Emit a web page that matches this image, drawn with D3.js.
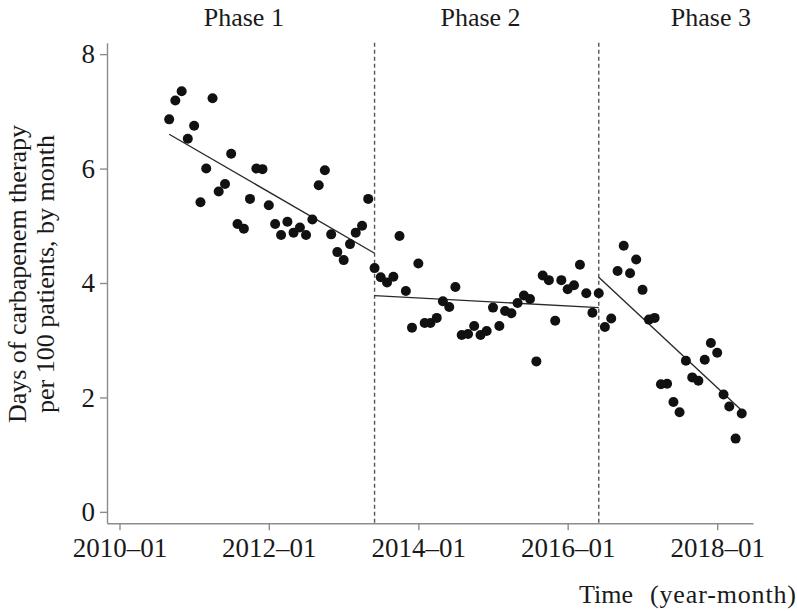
<!DOCTYPE html>
<html>
<head>
<meta charset="utf-8">
<script src="https://cdn.jsdelivr.net/npm/d3@7"></script>
<style>
  body { margin: 0; background: #fff; }
  svg text { font-family: "Liberation Serif", "Times New Roman", serif; fill: #1a1a1a; }
</style>
</head>
<body>
<div id="container"><svg id="canvas" width="797" height="611"></svg></div>
<script>
// ************************************************************************************** //
// Data (days of carbapenem therapy per 100 patients, monthly)

var phaseNames = ['Phase 1', 'Phase 2', 'Phase 3'];
var phaseLabelAt = ['2011-09', '2014-11', '2017-12'];
var phaseStart = ['2010-09', '2013-07', '2016-07'];

var phase1Values = [6.86, 7.19, 7.35, 6.52, 6.75, 5.41, 6.00, 7.23, 5.60, 5.73, 6.26, 5.03, 4.95, 5.47, 6.00, 5.99, 5.36,
  5.03, 4.84, 5.07, 4.88, 4.97, 4.84, 5.11, 5.71, 5.97, 4.85, 4.54, 4.40, 4.68, 4.88, 5.00, 5.47, 4.26];
var phase2Values = [4.10, 4.01, 4.11, 4.82, 3.86, 3.22, 4.34, 3.30, 3.30, 3.39, 3.68, 3.58, 3.93, 3.09, 3.11, 3.25, 3.09,
  3.16, 3.57, 3.25, 3.51, 3.47, 3.65, 3.78, 3.72, 2.63, 4.13, 4.05, 3.34, 4.05, 3.89, 3.96, 4.32, 3.82, 3.48, 3.82];
var phase3Values = [3.23, 3.38, 4.21, 4.65, 4.17, 4.41, 3.88, 3.36, 3.39, 2.23, 2.24, 1.92, 1.74, 2.64, 2.35, 2.29,
  2.66, 2.95, 2.78, 2.05, 1.84, 1.28, 1.72];

// fitted segments: start / end month and value
var trendFromMonth = ['2010-09', '2013-06', '2016-06'];
var trendToMonth = ['2013-06', '2016-06', '2018-05'];
var trendFromValue = [6.60, 3.78, 4.10];
var trendToValue = [4.52, 3.57, 1.77];

var breakMonths = ['2013-06', '2016-06'];
var yTicks = [0, 2, 4, 6, 8];

// ************************************************************************************** //
// Scales

var parseMonth = d3.utcParse('%Y-%m');
var svg = d3.select('#canvas');

var xScale = d3.scaleUtc()
  .domain([new Date(Date.UTC(2009, 10, 1)), new Date(Date.UTC(2018, 5, 25))])
  .range([107, 753]);
var yScale = d3.scaleLinear().domain([-0.2, 8.2]).range([523.3, 42.7]);

var points = [];
[phase1Values, phase2Values, phase3Values].forEach(function(vals, p){
  var start = parseMonth(phaseStart[p]);
  vals.forEach(function(v, i){ points.push({ date: d3.utcMonth.offset(start, i), value: v }); });
});

// ************************************************************************************** //
// Axes

var xAxis = svg.append('g').attr('transform', 'translate(0,' + yScale.range()[0] + ')')
  .call(d3.axisBottom(xScale).ticks(d3.utcYear.every(2)).tickFormat(d3.utcFormat('%Y–%m'))
    .tickSize(7).tickSizeOuter(0).tickPadding(8));
var yAxis = svg.append('g').attr('transform', 'translate(' + xScale.range()[0] + ',0)')
  .call(d3.axisLeft(yScale).tickValues(yTicks).tickSize(7).tickSizeOuter(0).tickPadding(5));

svg.selectAll('.domain, .tick line').style('stroke', '#8c8c8c').style('stroke-width', 1.4);
svg.selectAll('.tick text').style('font-size', '27px').style('font-family', '"Liberation Serif", serif').style('fill', '#1a1a1a');

// ************************************************************************************** //
// Phase breaks, trend lines, points

svg.selectAll('.break').data(breakMonths).enter().append('line')
  .attr('class', 'break')
  .attr('x1', function(d){ return xScale(parseMonth(d)); })
  .attr('x2', function(d){ return xScale(parseMonth(d)); })
  .attr('y1', yScale.range()[1]).attr('y2', yScale.range()[0])
  .style('stroke', '#555').style('stroke-width', 1.4).style('stroke-dasharray', '4,3');

svg.selectAll('.trend').data(d3.range(3)).enter().append('line')
  .attr('class', 'trend')
  .attr('x1', function(i){ return xScale(parseMonth(trendFromMonth[i])); })
  .attr('y1', function(i){ return yScale(trendFromValue[i]); })
  .attr('x2', function(i){ return xScale(parseMonth(trendToMonth[i])); })
  .attr('y2', function(i){ return yScale(trendToValue[i]); })
  .style('stroke', '#2a2a2a').style('stroke-width', 1.4);

svg.selectAll('.pt').data(points).enter().append('circle')
  .attr('class', 'pt')
  .attr('cx', function(d){ return xScale(d.date); })
  .attr('cy', function(d){ return yScale(d.value); })
  .attr('r', 5)
  .style('fill', '#111');

// ************************************************************************************** //
// Labels

svg.selectAll('.phase').data(phaseNames).enter().append('text')
  .attr('class', 'phase')
  .attr('x', function(d, i){ return xScale(parseMonth(phaseLabelAt[i])); })
  .attr('y', 26)
  .attr('text-anchor', 'middle')
  .style('font-size', '26px')
  .text(function(d){ return d; });

var yTitle = svg.append('text').attr('transform', 'translate(0,274) rotate(-90)').attr('text-anchor', 'middle').style('font-size', '26px');
yTitle.append('tspan').attr('x', 0).attr('y', 26).text('Days of carbapenem therapy');
yTitle.append('tspan').attr('x', 0).attr('y', 54).text('per 100 patients, by month');

svg.append('text').attr('x', 579).attr('y', 603).style('font-size', '26px').text('Time');
svg.append('text').attr('x', 650).attr('y', 603).attr('textLength', 146).style('font-size', '26px').text('(year-month)');
</script>
</body>
</html>
